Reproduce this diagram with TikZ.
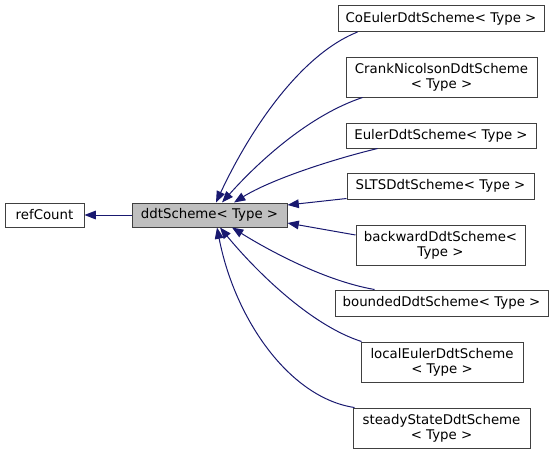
\documentclass[tikz,border=0pt]{standalone}
\usepackage{fontspec}
\setmainfont{DejaVu Sans}
\usetikzlibrary{arrows.meta, calc}
\definecolor{EdgeBlue}{HTML}{191970}
\definecolor{BaseGray}{HTML}{BFBFBF}
\definecolor{BoxLine}{HTML}{404040}
\tikzset{
    % class boxes
    classbox/.style 2 args={
        rectangle,
        draw=BoxLine,
        fill=white,
        line width=0.75pt,
        inner sep=0pt,
        minimum width=#1*0.75pt,
        minimum height=#2*0.75pt,
        align=center,
        font=\fontsize{10}{11.25}\selectfont
    },
    basebox/.style 2 args={
        classbox={#1}{#2},
        fill=BaseGray
    },
    % inheritance arrows
    inherit/.style={
        EdgeBlue,
        line width=0.75pt,
        -{Triangle[length=8.5pt,width=6.5pt]}
    }
}

\begin{document}
\begin{tikzpicture}[x=0.75pt, y=-0.75pt]
    \useasboundingbox (0,0) rectangle (553,454);

    % base classes
    \node[classbox={79}{24}] (refcount) at (44.5,215) {refCount};
    \node[basebox={155}{24}] (ddt) at (209.5,215) {ddtScheme< Type >};

    % derived schemes
    \node[classbox={206}{26}] (coeuler) at (441,18.5) {CoEulerDdtScheme< Type >};
    \node[classbox={191}{40}] (crank) at (441.5,77) {CrankNicolsonDdtScheme\\< Type >};
    \node[classbox={190}{25}] (euler) at (441,135.5) {EulerDdtScheme< Type >};
    \node[classbox={187}{26}] (slts) at (440.5,186) {SLTSDdtScheme< Type >};
    \node[classbox={169}{40}] (backward) at (440.5,245) {backwardDdtScheme<\\Type >};
    \node[classbox={213}{26}] (bounded) at (441.5,303) {boundedDdtScheme< Type >};
    \node[classbox={162}{40}] (localeuler) at (442,362) {localEulerDdtScheme\\< Type >};
    \node[classbox={177}{40}] (steady) at (441.5,428) {steadyStateDdtScheme\\< Type >};

    % inheritance
    \draw[inherit] (ddt) -- (refcount);
    \draw[inherit] ($(coeuler.south west)+(20,0)$) .. controls (300,55) and (250,130) .. ($(ddt.north)+(6.5,0)$);
    \draw[inherit] ($(crank.south west)+(17,0)$) .. controls (310,115) and (260,160) .. ($(ddt.north)+(12.5,0)$);
    \draw[inherit] ($(euler.south west)+(32,0)$) .. controls (330,160) and (270,180) .. ($(ddt.north)+(24.5,0)$);
    \draw[inherit] ($(slts.south west)+(0,-1)$) -- ($(ddt.east)+(0,-10)$);
    \draw[inherit] ($(backward.west)+(0,-10)$) -- ($(ddt.east)+(0,8)$);
    \draw[inherit] ($(bounded.north west)+(40,0)$) .. controls (320,280) and (260,245) .. ($(ddt.south)+(22.5,0)$);
    \draw[inherit] ($(localeuler.north west)+(1,0)$) .. controls (310,325) and (255,270) .. ($(ddt.south)+(10.5,0)$);
    \draw[inherit] ($(steady.north west)+(2,0)$) .. controls (290,398) and (235,320) .. ($(ddt.south)+(7.5,0)$);
\end{tikzpicture}
\end{document}
